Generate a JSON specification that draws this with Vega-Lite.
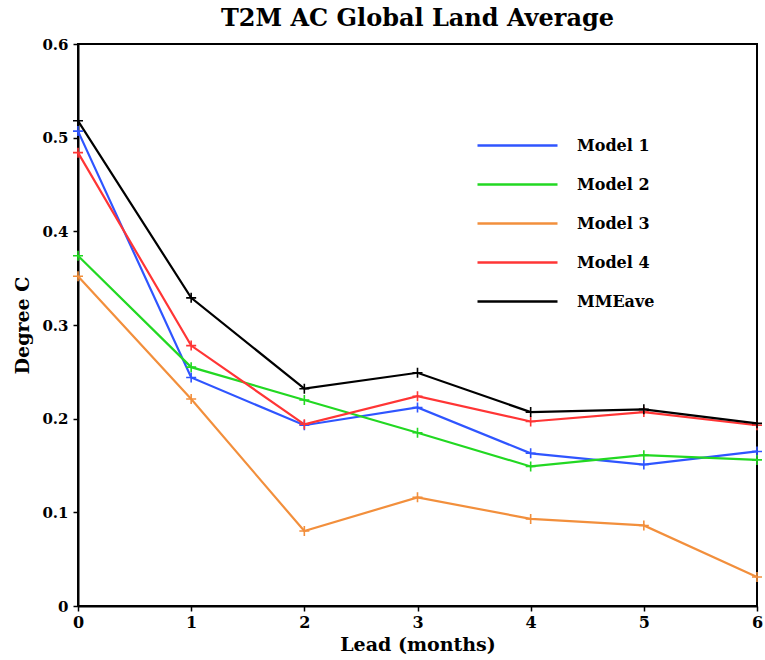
{
  "$schema": "https://vega.github.io/schema/vega-lite/v6.json",
  "width": 679,
  "height": 562,
  "autosize": {"type": "none"},
  "padding": {"left": 78, "top": 44, "right": 8, "bottom": 54},
  "background": "white",
  "title": {
    "text": "T2M AC Global Land Average",
    "font": "DejaVu Serif",
    "fontWeight": "bold",
    "fontSize": 24,
    "color": "black",
    "offset": 6,
    "anchor": "middle"
  },
  "config": {
    "view": {"stroke": "black", "strokeWidth": 2},
    "axis": {
      "grid": false,
      "labelFont": "DejaVu Serif",
      "labelFontWeight": "bold",
      "labelColor": "black",
      "titleFont": "DejaVu Serif",
      "titleFontWeight": "bold",
      "titleColor": "black",
      "domainColor": "black",
      "domainWidth": 2,
      "tickColor": "black",
      "tickWidth": 1.5,
      "tickSize": 5
    }
  },
  "data": {
    "values": [
      {"lead": 0, "model": "Model 1", "ac": 0.507},
      {"lead": 1, "model": "Model 1", "ac": 0.244},
      {"lead": 2, "model": "Model 1", "ac": 0.193},
      {"lead": 3, "model": "Model 1", "ac": 0.212},
      {"lead": 4, "model": "Model 1", "ac": 0.163},
      {"lead": 5, "model": "Model 1", "ac": 0.151},
      {"lead": 6, "model": "Model 1", "ac": 0.165},
      {"lead": 0, "model": "Model 2", "ac": 0.374},
      {"lead": 1, "model": "Model 2", "ac": 0.255},
      {"lead": 2, "model": "Model 2", "ac": 0.220},
      {"lead": 3, "model": "Model 2", "ac": 0.185},
      {"lead": 4, "model": "Model 2", "ac": 0.149},
      {"lead": 5, "model": "Model 2", "ac": 0.161},
      {"lead": 6, "model": "Model 2", "ac": 0.156},
      {"lead": 0, "model": "Model 3", "ac": 0.352},
      {"lead": 1, "model": "Model 3", "ac": 0.221},
      {"lead": 2, "model": "Model 3", "ac": 0.080},
      {"lead": 3, "model": "Model 3", "ac": 0.116},
      {"lead": 4, "model": "Model 3", "ac": 0.093},
      {"lead": 5, "model": "Model 3", "ac": 0.086},
      {"lead": 6, "model": "Model 3", "ac": 0.031},
      {"lead": 0, "model": "Model 4", "ac": 0.484},
      {"lead": 1, "model": "Model 4", "ac": 0.278},
      {"lead": 2, "model": "Model 4", "ac": 0.194},
      {"lead": 3, "model": "Model 4", "ac": 0.224},
      {"lead": 4, "model": "Model 4", "ac": 0.197},
      {"lead": 5, "model": "Model 4", "ac": 0.207},
      {"lead": 6, "model": "Model 4", "ac": 0.193},
      {"lead": 0, "model": "MMEave", "ac": 0.518},
      {"lead": 1, "model": "MMEave", "ac": 0.329},
      {"lead": 2, "model": "MMEave", "ac": 0.232},
      {"lead": 3, "model": "MMEave", "ac": 0.249},
      {"lead": 4, "model": "MMEave", "ac": 0.207},
      {"lead": 5, "model": "MMEave", "ac": 0.210},
      {"lead": 6, "model": "MMEave", "ac": 0.195}
    ]
  },
  "encoding": {
    "x": {
      "field": "lead",
      "type": "quantitative",
      "scale": {"domain": [0, 6], "nice": false},
      "axis": {
        "title": "Lead (months)",
        "values": [0, 1, 2, 3, 4, 5, 6],
        "format": "d",
        "labelFontSize": 16,
        "labelPadding": 3,
        "titleFontSize": 19,
        "titlePadding": 5,
        "labelFlush": false
      }
    },
    "y": {
      "field": "ac",
      "type": "quantitative",
      "scale": {"domain": [0, 0.6], "nice": false},
      "axis": {
        "title": "Degree C",
        "values": [0, 0.1, 0.2, 0.3, 0.4, 0.5, 0.6],
        "labelExpr": "datum.value == 0 ? '0' : format(datum.value, '.1f')",
        "labelFontSize": 15,
        "labelPadding": 5,
        "titleFontSize": 19,
        "titlePadding": 9
      }
    },
    "color": {
      "field": "model",
      "type": "nominal",
      "scale": {
        "domain": ["Model 1", "Model 2", "Model 3", "Model 4", "MMEave"],
        "range": ["#2f55ff", "#22d822", "#f28f3c", "#ff3535", "#000000"]
      }
    }
  },
  "layer": [
    {
      "mark": {"type": "line", "strokeWidth": 2.2},
      "encoding": {
        "color": {
          "field": "model",
          "type": "nominal",
          "legend": {
            "title": null,
            "orient": "none",
            "legendX": 398,
            "legendY": 90,
            "direction": "vertical",
            "symbolType": "M-1,0H7",
            "symbolSize": 400,
            "symbolStrokeWidth": 2.5,
            "symbolFillColor": "transparent",
            "labelFont": "DejaVu Serif",
            "labelFontWeight": "bold",
            "labelFontSize": 16,
            "labelColor": "black",
            "labelOffset": 78,
            "rowPadding": 19
          }
        }
      }
    },
    {
      "mark": {
        "type": "point",
        "shape": "M-1,0H1M0,-1V1",
        "size": 100,
        "filled": false,
        "strokeWidth": 1.6,
        "opacity": 1
      },
      "encoding": {
        "color": {"field": "model", "type": "nominal", "legend": null}
      }
    }
  ]
}
